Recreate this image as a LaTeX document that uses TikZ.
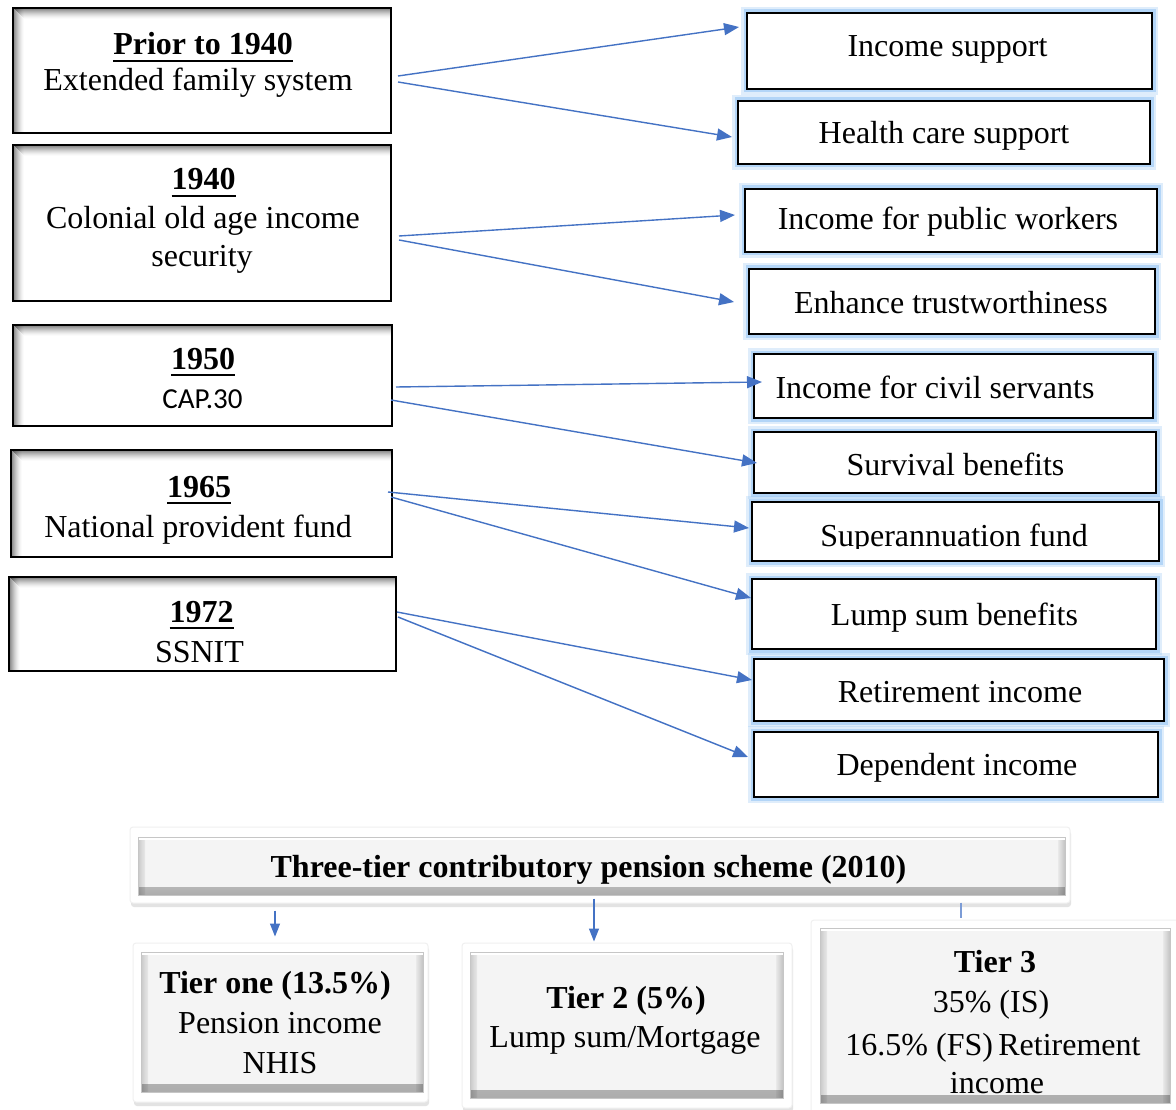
\documentclass[tikz,border=0pt]{standalone}
\usepackage{fontspec}
\setmainfont{Liberation Serif}
\newfontfamily\calibrifont{Carlito}
\usetikzlibrary{arrows.meta,shadows,calc}
\definecolor{arrowblue}{RGB}{68,114,196}
\definecolor{glowblue}{RGB}{150,198,245}
\definecolor{bevelgray}{RGB}{244,244,244}
\newcommand\mybul[1]{\setbox0\hbox{\textbf{#1}}\rlap{\rule[-7pt]{\wd0}{2pt}}\box0}
\tikzset{
  lbox/.style={draw=black, line width=2pt, fill=white, inner sep=0pt,
    path picture={
      \foreach \i [evaluate=\i as \op using {0.5*(1-\i/11)^1.5}] in {0,...,10} {
        \fill[black, opacity=\op]
          ([xshift=\i pt]path picture bounding box.north west) rectangle ([xshift=\i pt+1pt]path picture bounding box.south west);
        \fill[black, opacity=\op]
          ([xshift=\i pt+1pt, yshift=-\i pt]path picture bounding box.north west) rectangle ([yshift=-\i pt-1pt]path picture bounding box.north east);
      }
    }},
  rbox/.style={draw=black, line width=2pt, fill=white, inner sep=0pt,
    preaction={draw=glowblue, line width=12pt, opacity=0.3},
    preaction={draw=glowblue, line width=7pt, opacity=0.6}},
  txt/.style={inner sep=0pt, anchor=base, font=\fontsize{32}{40}\selectfont},
  btxt/.style={txt, font=\fontsize{32}{40}\selectfont\bfseries},
  conn/.style={draw=arrowblue, line width=1.4pt, -{Triangle[length=15pt,width=12pt]}},
  dconn/.style={draw=arrowblue, line width=1.2pt, -{Triangle[length=13pt,width=10pt]}},
  touter/.style={fill=white, draw=gray!12, line width=1pt, rounded corners=3pt, inner sep=0pt,
    drop shadow={shadow xshift=1pt, shadow yshift=-4pt, opacity=0.22, fill=gray}},
  tinner/.style={fill=bevelgray, draw=gray!45, line width=0.8pt, inner sep=0pt,
    path picture={
      \shade[top color=bevelgray, bottom color=gray!65]
        ([yshift=8pt]path picture bounding box.south west) rectangle (path picture bounding box.south east);
      \shade[left color=gray!35, right color=bevelgray, blend mode=multiply]
        (path picture bounding box.north west) rectangle ([xshift=7pt]path picture bounding box.south west);
      \shade[right color=gray!40, left color=bevelgray, blend mode=multiply]
        ([xshift=-7pt]path picture bounding box.north east) rectangle (path picture bounding box.south east);
      \fill[white] (path picture bounding box.north west) rectangle ([yshift=-3pt]path picture bounding box.north east);
    }}
}
\begin{document}
\begin{tikzpicture}[x=1pt,y=-1pt]
\useasboundingbox (0,0) rectangle (1176,1110);
\fill[white] (0,0) rectangle (1176,1110);

% left boxes
\node[lbox, minimum width=378pt, minimum height=125pt] (p1) at (202,70.5) {};
\node[lbox, minimum width=378pt, minimum height=156pt] (p2) at (202,223) {};
\node[lbox, minimum width=379pt, minimum height=101pt] (p3) at (202.5,375.5) {};
\node[lbox, minimum width=381pt, minimum height=107pt] (p4) at (201.5,503.5) {};
\node[lbox, minimum width=387pt, minimum height=94pt] (p5) at (202.5,624) {};

\node[txt] (p1a) at (203,55) {\mybul{Prior to 1940}};
\node[txt] (p1b) at (198,91) {Extended family system};
\node[txt] (p2a) at (203.5,190) {\mybul{1940}};
\node[txt] (p2b) at (203,229) {Colonial old age income};
\node[txt] (p2c) at (202,267) {security};
\node[txt] (p3a) at (203,369) {\mybul{1950}};
\node[txt, font=\calibrifont\fontsize{29}{34}\selectfont] (p3b) at (202.5,408) {CAP.30};
\node[txt] (p4a) at (199,497) {\mybul{1965}};
\node[txt] (p4b) at (198,537) {National provident fund};
\node[txt] (p5a) at (201.5,622) {\mybul{1972}};
\node[txt] (p5b) at (199.5,662) {SSNIT};

% right boxes
\node[rbox, minimum width=405pt, minimum height=76pt] (r1) at (949.5,51) {};
\node[rbox, minimum width=412pt, minimum height=63pt] (r2) at (944,132.5) {};
\node[rbox, minimum width=412pt, minimum height=63pt] (r3) at (951,220.5) {};
\node[rbox, minimum width=406pt, minimum height=65pt] (r4) at (952,301.5) {};
\node[rbox, minimum width=399pt, minimum height=64pt] (r5) at (953.5,386) {};
\node[rbox, minimum width=402pt, minimum height=61pt] (r6) at (955,462.5) {};
\node[rbox, minimum width=407pt, minimum height=59pt] (r7) at (955.5,531.5) {};
\node[rbox, minimum width=404pt, minimum height=70pt] (r8) at (954,614) {};
\node[rbox, minimum width=410pt, minimum height=62pt] (r9) at (959,690) {};
\node[rbox, minimum width=404pt, minimum height=65pt] (r10) at (956,764.5) {};

\node[txt] (r1t) at (947.5,57) {Income support};
\node[txt] (r2t) at (944,144) {Health care support};
\node[txt] (r3t) at (948,230) {Income for public workers};
\node[txt] (r4t) at (951,313) {Enhance trustworthiness};
\node[txt] (r5t) at (935,398) {Income for civil servants};
\node[txt] (r6t) at (955.5,475) {Survival benefits};
\begin{scope}
\clip (752,502) rectangle (1159,548);
\node[txt] (r7t) at (954,546.5) {Superannuation fund};
\end{scope}
\node[txt] (r8t) at (954.5,625) {Lump sum benefits};
\node[txt] (r9t) at (960,702) {Retirement income};
\node[txt] (r10t) at (957,775) {Dependent income};

% connectors
\draw[conn] ([xshift=6pt,yshift=-5.5pt]p1.east) -- ([xshift=-7pt,yshift=24pt]r1.west);
\draw[conn] ([xshift=6pt,yshift=-11.5pt]p1.east) -- ([xshift=-5pt,yshift=-4.5pt]r2.west);
\draw[conn] ([xshift=7pt,yshift=-13pt]p2.east) -- ([xshift=-9pt,yshift=5.5pt]r3.west);
\draw[conn] ([xshift=7pt,yshift=-17pt]p2.east) -- ([xshift=-14pt,yshift=-0.5pt]r4.west);
\draw[conn] ([xshift=3pt,yshift=-11.5pt]p3.east) -- ([xshift=9pt,yshift=4pt]r5.west);
\draw[conn] ([xshift=-2pt,yshift=-24.5pt]p3.east) -- ([xshift=4pt,yshift=-0.5pt]r6.west);
\draw[conn] ([xshift=-5pt,yshift=11.5pt]p4.east) -- ([xshift=-2pt,yshift=3.5pt]r7.west);
\draw[conn] ([xshift=-2pt,yshift=6.5pt]p4.east) -- ([yshift=16pt]r8.west);
\draw[conn] ([yshift=12pt]p5.east) -- ([xshift=-1pt,yshift=10pt]r9.west);
\draw[conn] ([xshift=1pt,yshift=7pt]p5.east) -- ([xshift=-5pt,yshift=7.5pt]r10.west);

% bottom section
\node[touter, minimum width=940pt, minimum height=76pt] (tt) at (600,865) {};
\node[tinner, minimum width=927pt, minimum height=58pt] (tti) at (601.5,866) {};
\node[btxt] (ttt) at (588.5,877) {Three-tier contributory pension scheme (2010)};

\node[touter, minimum width=295pt, minimum height=159pt] (t1) at (280.5,1022.5) {};
\node[tinner, minimum width=282pt, minimum height=140pt] (t1i) at (282,1022) {};
\node[btxt] (t1a) at (275,993) {Tier one (13.5\%)};
\node[txt] (t1b) at (280,1033) {Pension income};
\node[txt] (t1c) at (280,1073) {NHIS};

\node[touter, minimum width=330pt, minimum height=165pt] (t2) at (627,1025.5) {};
\node[tinner, minimum width=313pt, minimum height=146pt] (t2i) at (626.5,1025) {};
\node[btxt] (t2a) at (626,1008) {Tier 2 (5\%)};
\node[txt] (t2b) at (625,1047) {Lump sum/Mortgage};

\node[touter, minimum width=369pt, minimum height=196pt] (t3) at (995.5,1018) {};
\node[tinner, minimum width=350pt, minimum height=175pt] (t3i) at (995,1015.5) {};
\node[btxt] (t3a) at (995,972) {Tier 3};
\node[txt] (t3b) at (991,1012) {35\% (IS)};
\node[txt] (t3c) at (993,1055) {16.5\% (FS)\,Retirement};
\node[txt] (t3d) at (997,1093) {income};

\draw[dconn] ([xshift=-325pt,yshift=-7pt]tt.south) -- ([xshift=-5.5pt,yshift=6pt]t1.north);
\draw[dconn] ([xshift=-6pt,yshift=5pt]tt.south) -- ([xshift=-33pt,yshift=1pt]t2.north);
\draw[draw=arrowblue!70, line width=1.2pt] ([xshift=361pt,yshift=1pt]tt.south) -- ([xshift=-34.5pt,yshift=2pt]t3.north);
\end{tikzpicture}
\end{document}
